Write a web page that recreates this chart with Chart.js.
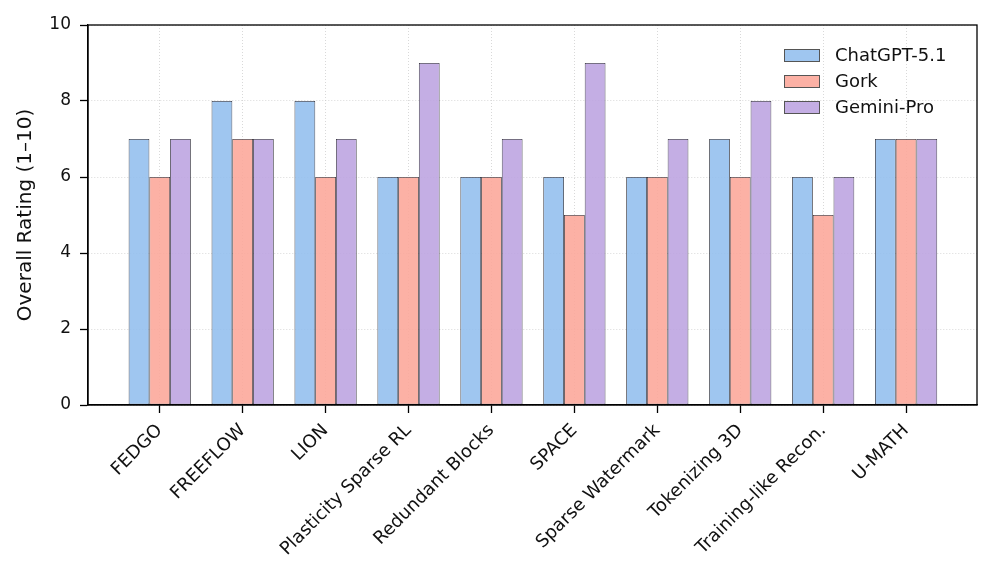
<!DOCTYPE html>
<html>
<head>
<meta charset="utf-8">
<script src="https://cdn.jsdelivr.net/npm/chart.js@4"></script>
<style>
  html, body { margin: 0; padding: 0; background: #fff; }
  #wrap { width: 996px; height: 577px; }
</style>
</head>
<body>
<div id="wrap"><canvas id="chart" width="996" height="577"></canvas></div>
<script>
const categories = [
  "FEDGO", "FREEFLOW", "LION", "Plasticity Sparse RL", "Redundant Blocks",
  "SPACE", "Sparse Watermark", "Tokenizing 3D", "Training-like Recon.", "U-MATH",
];
const chatgpt = [7, 8, 8, 6, 6, 6, 6, 7, 6, 7];
const gork = [6, 7, 6, 6, 6, 5, 6, 6, 5, 7];
const gemini = [7, 7, 7, 9, 7, 9, 7, 8, 6, 7];
const seriesNames = ["ChatGPT-5.1", "Gork", "Gemini-Pro"];
const yTicks = [0, 2, 4, 6, 8, 10];

const FONT = "'DejaVu Sans', sans-serif";

function toPoints(values) {
  return values.map((v, i) => ({ x: i, y: v }));
}

function barDataset(label, values, color) {
  return {
    label,
    data: toPoints(values),
    backgroundColor: color,
    borderColor: "rgba(20,20,30,0.9)",
    borderWidth: 0.8,
    borderSkipped: false,
    categoryPercentage: 0.75,
    barPercentage: 1.0,
  };
}

// frame on all four sides + legend inside the plot
const frameAndLegend = {
  id: "frameAndLegend",
  afterDraw(chart) {
    const { ctx, chartArea: a } = chart;
    ctx.save();
    ctx.strokeStyle = "#000";
    ctx.lineWidth = 1.3;
    ctx.strokeRect(a.left, a.top, a.right - a.left, a.bottom - a.top);

    const x0 = 784;
    let y0 = 49;
    chart.data.datasets.forEach((ds) => {
      ctx.fillStyle = ds.backgroundColor;
      ctx.fillRect(x0, y0, 36, 13);
      ctx.strokeStyle = "#555";
      ctx.lineWidth = 1;
      ctx.strokeRect(x0 + 0.5, y0 + 0.5, 35, 12);
      ctx.fillStyle = "#111";
      ctx.font = "18px " + FONT;
      ctx.textBaseline = "middle";
      ctx.textAlign = "left";
      ctx.fillText(ds.label, 835, y0 + 7);
      y0 += 26;
    });
    ctx.restore();
  },
};

new Chart(document.getElementById("chart"), {
  type: "bar",
  data: {
    datasets: [
      barDataset(seriesNames[0], chatgpt, "rgba(149,192,238,0.9)"),
      barDataset(seriesNames[1], gork, "rgba(252,169,155,0.9)"),
      barDataset(seriesNames[2], gemini, "rgba(190,165,225,0.9)"),
    ],
  },
  options: {
    responsive: false,
    animation: false,
    layout: { padding: { top: 25, right: 19, left: 0, bottom: 0 } },
    plugins: {
      legend: { display: false },
      tooltip: { enabled: false },
    },
    scales: {
      x: {
        type: "linear",
        offset: false,
        min: -0.865,
        max: 9.855,
        afterFit: (scale) => { scale.height = 172; },
        ticks: {
          stepSize: 1,
          includeBounds: false,
          autoSkip: false,
          maxRotation: 45,
          minRotation: 45,
          padding: 7,
          color: "#111",
          font: { family: FONT, size: 18 },
          callback: (v) => categories[v] ?? "",
        },
        grid: {
          offset: false,
          color: "#c8c8c8",
          lineWidth: 0.7,
          tickLength: 8,
          tickColor: "#000",
          tickWidth: 1.3,
        },
        border: { color: "#000", width: 1.3, dash: [1, 2] },
      },
      y: {
        min: 0,
        max: 10,
        afterFit: (scale) => { scale.width = 88; },
        afterBuildTicks: (scale) => {
          scale.ticks = yTicks.map((v) => ({ value: v }));
        },
        ticks: {
          padding: 9,
          color: "#111",
          font: { family: FONT, size: 17 },
        },
        title: {
          display: true,
          text: "Overall Rating (1–10)",
          color: "#111",
          font: { family: FONT, size: 20 },
          padding: { top: 14, bottom: 0 },
        },
        grid: {
          color: "#c8c8c8",
          lineWidth: 0.7,
          tickLength: 8,
          tickColor: "#000",
          tickWidth: 1.3,
        },
        border: { color: "#000", width: 1.3, dash: [1, 2] },
      },
    },
  },
  plugins: [frameAndLegend],
});
</script>
</body>
</html>
